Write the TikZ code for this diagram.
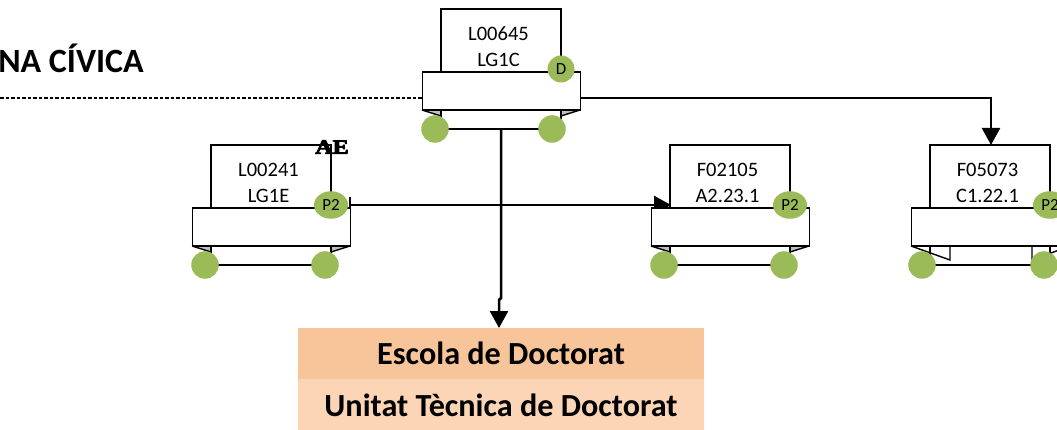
\documentclass[tikz,border=0pt]{standalone}
\usepackage{fontspec}
\setmainfont{Carlito}
\newfontfamily\aefont[FakeBold=4]{Liberation Serif}
\usetikzlibrary{arrows.meta,shapes.geometric}
\definecolor{dotgreen}{HTML}{9BBB59}
\definecolor{foldgray}{HTML}{BFBFBF}
\definecolor{peachA}{HTML}{F8C49A}
\definecolor{peachB}{HTML}{FBD5B5}
\tikzset{
  ln/.style={draw=black,line width=1.9pt},
  box/.style={ln,fill=white,minimum width=120pt,minimum height=63pt,inner sep=0pt,outer sep=0pt},
  banner/.style={ln,fill=white,minimum width=158pt,minimum height=38pt,inner sep=0pt,outer sep=0pt},
  fold/.style={ln,minimum width=120pt,minimum height=19pt,inner sep=0pt,outer sep=0pt},
  dot/.style={circle,fill=dotgreen,minimum size=27.5pt,inner sep=0pt,outer sep=0pt},
  badge/.style={ellipse,fill=dotgreen,minimum width=34pt,minimum height=27.5pt,inner sep=0pt,outer sep=0pt,font=\fontsize{17}{17}\selectfont},
  badgeD/.style={circle,fill=dotgreen,minimum size=27pt,inner sep=0pt,outer sep=0pt,font=\fontsize{17}{17}\selectfont},
  label/.style={align=center,inner sep=0pt,font=\fontsize{20.5}{26}\selectfont},
  band/.style={minimum width=406pt,minimum height=51pt,inner sep=0pt,outer sep=0pt,font=\bfseries\fontsize{32.2}{34}\selectfont},
  conn/.style={draw=black,line width=2.5pt},
  tip/.style={-{Triangle[length=17pt,width=18pt]}},
}
% #1 name, #2 box left x, #3 box top y, #4 line one, #5 line two, #6 badge style, #7 badge text, #8 right dot offset
\newcommand{\unitblock}[8]{%
  \fill[foldgray] (#2-19,#3+101) -- (#2,#3+107) -- (#2,#3+101) -- cycle;
  \fill[foldgray] (#2+139,#3+101) -- (#2+120,#3+107) -- (#2+120,#3+101) -- cycle;
  \node[fold] (#1fold) at ({#2+60},{#3+110.5}) {};
  \draw[ln,line width=1.4pt] (#2-19,#3+101) -- (#2,#3+107);
  \draw[ln,line width=1.4pt] (#2+139,#3+101) -- (#2+120,#3+107);
  \node[box] (#1box) at ({#2+60},{#3+31.5}) {};
  \node[label] (#1text) at ({#2+57.5},{#3+37.5}) {#4\\#5};
  \node[banner] (#1banner) at ({#2+60.5},{#3+82}) {};
  \node[dot] (#1left) at ({#2-6},{#3+120}) {};
  \node[dot] (#1right) at ({#2+#8},{#3+120}) {};
  \node[#6] (#1badge) at ({#2+120},{#3+60}) {#7};
}
\begin{document}
\begin{tikzpicture}[x=1pt,y=-1pt]
\useasboundingbox[clip] (0,0) rectangle (1057,430);
\fill[white] (0,0) rectangle (1057,430);

\node[anchor=base east,inner sep=0pt,font=\bfseries\fontsize{34}{34}\selectfont] (title) at (144,73) {NA CÍVICA};

\node[band,fill=peachB,minimum height=52pt] (unitat) at (501,405) {Unitat Tècnica de Doctorat};
\node[band,fill=peachA] (escola) at (501,353.5) {Escola de Doctorat};

\coordinate (dashstart) at (0,98);
\coordinate (topleft) at (422,98);
\coordinate (topright) at (580,98);
\coordinate (bendA) at (501,298);
\coordinate (bendB) at (499,300);
\coordinate (hstart) at (350,205);
\coordinate (hend) at (671,205);
\coordinate (ticktop) at (350,197);
\coordinate (tickbot) at (350,208);
\coordinate (darrow) at (991,145);

\draw[ln,line width=1.4pt,dash pattern=on 3.5pt off 2pt] (dashstart) -- (topleft);

\draw[conn,tip] (hstart) -- (hend);

\unitblock{a}{441}{9}{L00645}{LG1C}{badgeD}{D}{111}
\unitblock{b}{211}{145}{L00241}{LG1E}{badge}{P2}{114}
\unitblock{c}{670}{145}{F02105}{A2.23.1}{badge}{P2}{114}

% last block, with its white folds
\draw[ln,line width=1.4pt] (911,246) -- (950,260) -- (950,246);
\draw[ln,line width=1.4pt] (1070,246) -- (1032,260) -- (1032,246);
\node[fold] (dfold) at (990,255.5) {};
\node[box] (dbox) at (990,176.5) {};
\node[label] (dtext) at (987.5,182.5) {F05073\\C1.22.1};
\node[banner] (dbanner) at (990.5,227) {};
\node[dot] (dleft) at (922,265) {};
\node[dot] (dright) at (1044,265) {};
\node[badge] (dbadge) at (1050,205) {P2};

\node[anchor=center,inner sep=0pt,xscale=1.2,font=\aefont\bfseries\fontsize{20}{20}\selectfont] (ae) at (332,147) {AE};

\draw[conn,tip] (afold.south) -- (bendA) -- (bendB) -- (bendB |- escola.north);
\draw[conn] (ticktop) -- (tickbot);
\draw[conn,tip] (topright) -| (darrow);
\end{tikzpicture}
\end{document}
